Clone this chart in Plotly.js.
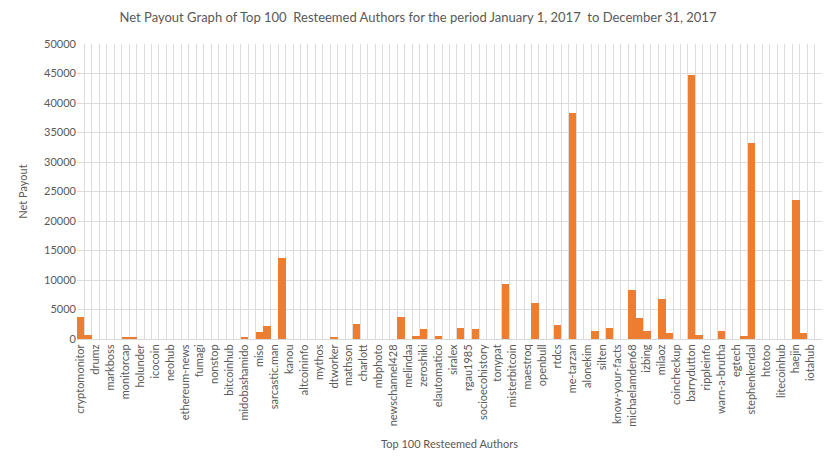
<!DOCTYPE html>
<html>
<head>
<meta charset="utf-8">
<script src="https://cdn.plot.ly/plotly-3.0.1.min.js"></script>
<style>html,body{margin:0;padding:0;background:#fff;}#chart{width:836px;height:469px;}</style>
</head>
<body>
<div id="chart"></div>
<script>
// Labels shown on every other category (100 authors in total)
const shownLabels = ["cryptomonitor","drumz","markboss","monitorcap","holunder","icocoin","neohub","ethereum-news","fumagi","nonstop","bitcoinhub","midobashamido","miso","sarcastic.man","kanou","altcoininfo","mythos","dtworker","mathson","charlott","mbphoto","newschannel428","melindaa","zeroshiki","elautomatico","siralex","rgau1985","socioecohistory","tonypat","misterbitcoin","maestroq","openbull","rtdcs","me-tarzan","alonekim","silten","know-your-facts","michaelamden68","izbing","milaoz","coincheckup","barrydutton","rippleinfo","warn-a-brutha","egtech","stephenkendal","htotoo","litecoinhub","haejin","iotahub"];

// Net payout per author, in rank order (index 0..99)
const payouts = [
3800, 720, 80, 80, 80, 80, 330, 330, 80, 80,
80, 80, 80, 80, 80, 80, 80, 80, 80, 80,
80, 80, 330, 80, 1200, 2250, 80, 13750, 80, 80,
80, 80, 80, 80, 330, 80, 80, 2520, 80, 80,
80, 80, 80, 3750, 80, 540, 1700, 80, 540, 80,
80, 1850, 80, 1700, 80, 80, 80, 9300, 80, 80,
80, 6150, 80, 80, 2400, 80, 38300, 80, 80, 1410,
80, 1850, 80, 80, 8300, 3550, 1410, 80, 6750, 1040,
80, 80, 44700, 700, 80, 80, 1410, 80, 80, 540,
33200, 80, 80, 80, 80, 80, 23500, 1040, 80, 80
];

const yTicks = [0,5000,10000,15000,20000,25000,30000,35000,40000,45000,50000];

const idx = payouts.map((_, i) => i);
const labelPos = shownLabels.map((_, k) => 2 * k);

const gray = '#595959';
const fontFam = 'Lato, "Liberation Sans", sans-serif';

const traces = [
  {
    type: 'bar',
    x: idx,
    y: payouts,
    marker: {color: '#ED7D31'},
    hoverinfo: 'y'
  },
  {
    type: 'scatter',
    mode: 'markers',
    x: idx,
    y: payouts,
    xaxis: 'x2',
    marker: {opacity: 0},
    hoverinfo: 'skip',
    showlegend: false
  }
];

const layout = {
  width: 836,
  height: 469,
  margin: {l: 77, r: 14, t: 44, b: 130},
  paper_bgcolor: '#fff',
  plot_bgcolor: '#fff',
  showlegend: false,
  bargap: 0,
  font: {family: fontFam, color: gray, size: 11},
  title: {
    text: 'Net Payout Graph of Top 100\u00a0 Resteemed Authors for the period January 1, 2017\u00a0 to December 31, 2017',
    font: {family: fontFam, size: 13, color: gray},
    x: 0.5, xanchor: 'center',
    y: 0.962, yanchor: 'middle'
  },
  xaxis: {
    range: [-0.5, 99.5],
    tickmode: 'array',
    tickvals: labelPos,
    ticktext: shownLabels,
    tickangle: -90,
    showgrid: false,
    zeroline: false,
    showline: true,
    linecolor: '#d9d9d9',
    ticks: '',
    tickfont: {family: fontFam, size: 11, color: gray},
    title: {text: 'Top 100 Resteemed Authors', font: {family: fontFam, size: 11, color: gray}, standoff: 14},
    fixedrange: true
  },
  xaxis2: {
    overlaying: 'x',
    range: [-0.5, 99.5],
    tickmode: 'linear',
    tick0: -0.5,
    dtick: 1,
    showgrid: true,
    gridcolor: '#dcdcdc',
    gridwidth: 1,
    showticklabels: false,
    zeroline: false,
    ticks: '',
    fixedrange: true
  },
  yaxis: {
    range: [0, 50000],
    tickmode: 'array',
    tickvals: yTicks,
    ticktext: yTicks.map(String),
    showgrid: true,
    gridcolor: '#dcdcdc',
    zeroline: false,
    ticks: '',
    tickfont: {family: fontFam, size: 11, color: gray},
    title: {text: 'Net Payout', font: {family: fontFam, size: 11, color: gray}, standoff: 14},
    fixedrange: true
  }
};

Plotly.newPlot('chart', traces, layout, {displayModeBar: false, staticPlot: true});
</script>
</body>
</html>
